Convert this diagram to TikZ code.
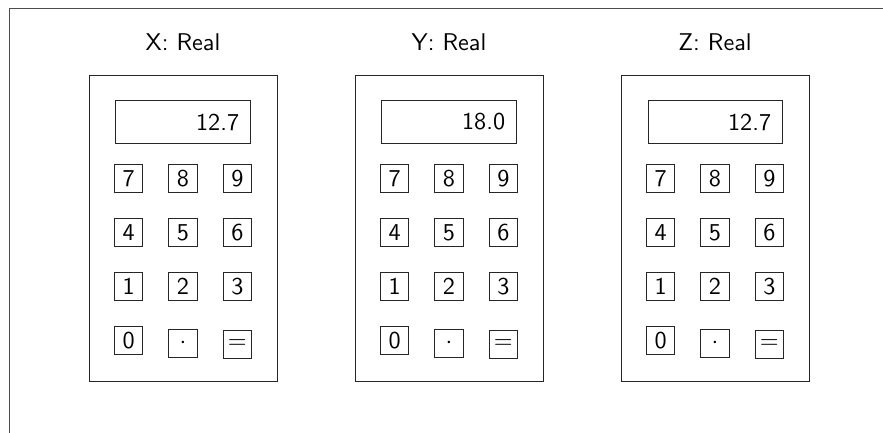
\documentclass[tikz,border=0pt]{standalone}
\usepackage{amsfonts,amsmath,amssymb,tikz,xcolor}
\usetikzlibrary{matrix}
\renewcommand{\familydefault}{\sfdefault}

\begin{document}
\begin{tikzpicture}[x=0.4133pt,y=-0.4133pt]
        \clip (0,0) rectangle (883,432);
        \draw[black!70] (9.5,8.5) rectangle (900,450);
        \foreach \cx/\nm/\val in {183/X/12.7,449/Y/18.0,715/Z/12.7}{
            \node (title\nm) at (\cx,42.5) {\nm: Real};
            \node[draw,black!85,minimum width=77.7pt,minimum height=126.5pt] (body\nm) at (\cx,228.3) {};
            \node[draw,black!85,text=black,inner xsep=4.5pt,text width=46.4pt,align=right,minimum height=17.4pt] (disp\nm) at (\cx,122) {\val};
            \matrix[matrix of nodes,ampersand replacement=\&,column sep=10.46pt,row sep=10.3pt,nodes={draw=black!85,minimum size=11.6pt,inner sep=0pt}] (keys\nm) at (\cx,261.3)
            {
                7 \& 8 \& 9 \\
                4 \& 5 \& 6 \\
                1 \& 2 \& 3 \\
                0 \& $\cdot$ \& $=$ \\
            };
        }
    \end{tikzpicture}
\end{document}
